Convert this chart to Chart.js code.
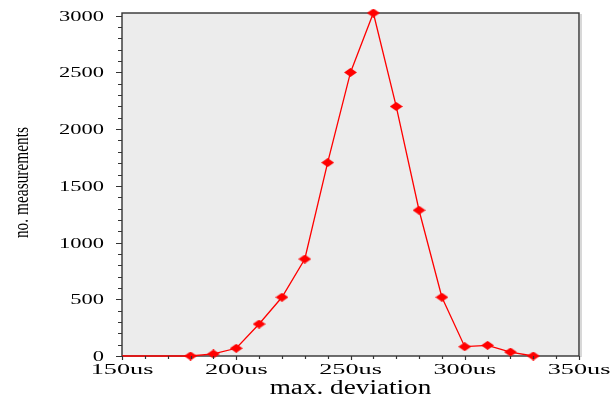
<!DOCTYPE html>
<html>
<head>
<meta charset="utf-8">
<script src="https://cdn.jsdelivr.net/npm/chart.js@4/dist/chart.umd.min.js"></script>
<style>
  html, body { margin: 0; padding: 0; background: #ffffff; }
  #wrap { width: 613px; height: 396px; }
</style>
</head>
<body>
<div id="wrap"><canvas id="chart" width="613" height="396"></canvas></div>
<script>
// Histogram of maximum deviation (microseconds) vs. number of measurements
const deviations = [150, 160, 170, 180, 190, 200, 210, 220, 230, 240, 250, 260, 270, 280, 290, 300, 310, 320, 330];
const counts     = [0, 0, 0, 0, 18, 68, 282, 518, 855, 1705, 2500, 3024, 2200, 1285, 518, 82, 94, 35, 0];
const markerShown = [false, false, false, true, true, true, true, true, true, true, true, true, true, true, true, true, true, true, true];

const xTickValues = [150, 200, 250, 300, 350];
const xTickLabels = ['150us', '200us', '250us', '300us', '350us'];
const yTickValues = [0, 500, 1000, 1500, 2000, 2500, 3000];
const yTickLabels = ['0', '500', '1000', '1500', '2000', '2500', '3000'];
const xTitle = 'max. deviation';
const yTitle = 'no. measurements';

// flattened red diamond used as the marker
function diamond(w, h, color) {
  const c = document.createElement('canvas');
  c.width = w; c.height = h;
  const g = c.getContext('2d');
  g.fillStyle = color;
  g.beginPath();
  g.moveTo(w / 2, 0);
  g.lineTo(w, h / 2);
  g.lineTo(w / 2, h);
  g.lineTo(0, h / 2);
  g.closePath();
  g.fill();
  return c;
}
const marker = diamond(13, 9, '#ff0000');

const SERIF = '"Liberation Serif", "Times New Roman", serif';

function stretchedText(ctx, text, x, y, sx, align, baseline) {
  ctx.save();
  ctx.translate(x, y);
  ctx.scale(sx, 1);
  ctx.textAlign = align;
  ctx.textBaseline = baseline;
  ctx.fillText(text, 0, 0);
  ctx.restore();
}

const framePlugin = {
  id: 'frame',
  beforeDatasetsDraw(chart) {
    const { ctx, chartArea: a } = chart;
    ctx.save();
    ctx.fillStyle = '#ececec';
    ctx.fillRect(a.left, a.top, a.right - a.left, a.bottom - a.top);
    // soft shadow on right edge
    ctx.fillStyle = '#d8d8d8';
    ctx.fillRect(a.right + 1, a.top + 1, 2, a.bottom - a.top);
    ctx.strokeStyle = '#333333';
    ctx.lineWidth = 1.4;
    ctx.strokeRect(a.left, a.top, a.right - a.left, a.bottom - a.top);
    ctx.restore();
  },
  afterDraw(chart) {
    const { ctx, chartArea: a } = chart;
    const xs = chart.scales.x, ys = chart.scales.y;
    ctx.save();
    ctx.strokeStyle = '#333333';
    ctx.lineWidth = 1.2;
    ctx.beginPath();
    // y ticks: major every 500, minor every 100, pointing outward
    for (let v = 0; v <= 3000; v += 100) {
      const py = Math.round(ys.getPixelForValue(v)) + 0.5;
      const len = (v % 500 === 0) ? 6 : 4;
      ctx.moveTo(a.left - len, py);
      ctx.lineTo(a.left, py);
    }
    // x ticks: every 10us
    for (let v = 150; v <= 350; v += 10) {
      const px = Math.round(xs.getPixelForValue(v)) + 0.5;
      const len = (v % 50 === 0) ? 4 : 3;
      ctx.moveTo(px, a.bottom);
      ctx.lineTo(px, a.bottom + len);
    }
    ctx.stroke();

    ctx.fillStyle = '#000000';
    ctx.font = '15px ' + SERIF;
    yTickValues.forEach((v, i) => {
      stretchedText(ctx, yTickLabels[i], 104, ys.getPixelForValue(v) + 1, 1.5, 'right', 'middle');
    });
    xTickValues.forEach((v, i) => {
      stretchedText(ctx, xTickLabels[i], xs.getPixelForValue(v), 374, 1.75, 'center', 'alphabetic');
    });

    ctx.font = '20px ' + SERIF;
    stretchedText(ctx, xTitle, (a.left + a.right) / 2, 394, 1.36, 'center', 'alphabetic');

    ctx.font = '22px ' + SERIF;
    ctx.save();
    ctx.translate(28, (a.top + a.bottom) / 2 - 2);
    ctx.rotate(-Math.PI / 2);
    ctx.scale(0.7, 1);
    ctx.textAlign = 'center';
    ctx.textBaseline = 'alphabetic';
    ctx.fillText(yTitle, 0, 0);
    ctx.restore();
    ctx.restore();
  }
};

new Chart(document.getElementById('chart'), {
  type: 'line',
  data: {
    datasets: [{
      data: deviations.map((d, i) => ({ x: d, y: counts[i] })),
      borderColor: '#ff0000',
      borderWidth: 1.3,
      pointStyle: marker,
      pointRadius: markerShown.map(s => s ? 5 : 0),
      pointHoverRadius: markerShown.map(s => s ? 5 : 0),
      backgroundColor: '#ff0000',
      tension: 0,
      clip: false
    }]
  },
  options: {
    responsive: false,
    animation: false,
    events: [],
    layout: { padding: { top: 13, right: 34, left: 0, bottom: 0 } },
    plugins: { legend: { display: false }, tooltip: { enabled: false } },
    scales: {
      x: {
        type: 'linear',
        min: 150,
        max: 350,
        grid: { display: false },
        border: { display: false },
        ticks: { display: false },
        afterFit(s) { s.height = 40; }
      },
      y: {
        min: 0,
        max: Math.max(...counts),
        grid: { display: false },
        border: { display: false },
        ticks: { display: false },
        afterFit(s) { s.width = 122; }
      }
    }
  },
  plugins: [framePlugin]
});
</script>
</body>
</html>
